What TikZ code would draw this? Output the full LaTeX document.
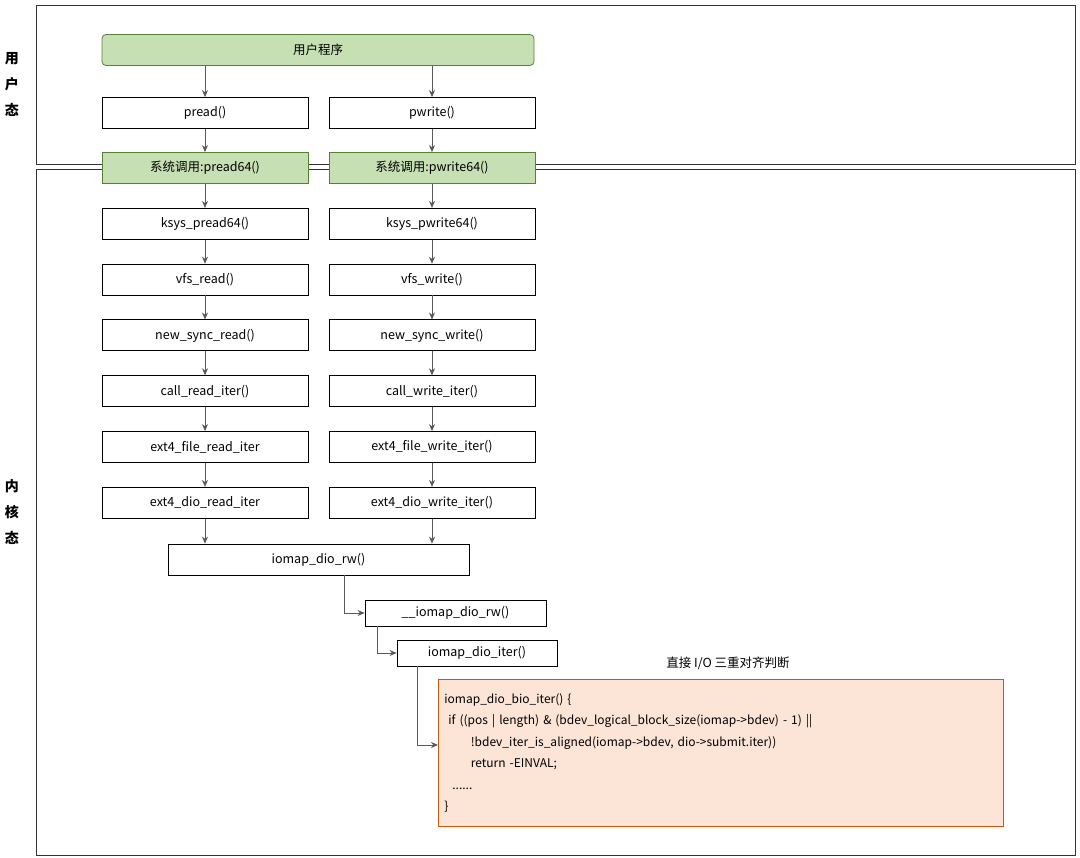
\documentclass[tikz,border=0pt]{standalone}
\usepackage{fontspec}
\setmainfont{Noto Sans CJK SC}
\usetikzlibrary{positioning,arrows.meta}
\definecolor{greenfill}{RGB}{198, 224, 180}
\definecolor{greenline}{RGB}{84, 130, 53}
\definecolor{orangefill}{RGB}{252, 228, 214}
\definecolor{orangeline}{RGB}{197, 90, 17}
\definecolor{arrowgray}{RGB}{89, 89, 89}
\begin{document}
\begin{tikzpicture}[x=1pt,y=-1pt,
    every node/.style={font=\fontsize{12.5pt}{14pt}\selectfont},
    func/.style={rectangle,draw,thick,minimum width=206pt,minimum height=31pt,inner sep=0pt},
    sys/.style={func,fill=greenfill,draw=greenline},
    region/.style={draw,thick,black!80},
    call/.style={-{Stealth[length=7pt,width=6pt]},thick,arrowgray}]
  \useasboundingbox (0,0) rectangle (1080,858);
  % regions
  \draw[region] (36,5) rectangle (1075,164);
  \draw[region] (36,169) rectangle (1075,855);
  \node[font=\bfseries\fontsize{14pt}{26pt}\selectfont,align=center] (user) at (12,84) {用\\户\\态};
  \node[font=\bfseries\fontsize{14pt}{26pt}\selectfont,align=center] (kernel) at (12,512) {内\\核\\态};
  % user space
  \node [sys,rounded corners=4pt,minimum width=432pt] (prog) at (318,50) {用户程序};
  \node [func] (r0) at (205,113) {pread()};
  \node [func] (w0) at (432,113) {pwrite()};
  \node [sys] (r1) at (205,168) {系统调用:pread64()};
  \node [sys] (w1) at (432,168) {系统调用:pwrite64()};
  % read path
  \node [func] (r2) [below=24pt of r1] {ksys\_pread64()};
  \node [func] (r3) [below=24pt of r2] {vfs\_read()};
  \node [func] (r4) [below=24pt of r3] {new\_sync\_read()};
  \node [func] (r5) [below=24pt of r4] {call\_read\_iter()};
  \node [func] (r6) [below=24pt of r5] {ext4\_file\_read\_iter};
  \node [func] (r7) [below=24pt of r6] {ext4\_dio\_read\_iter};
  % write path
  \node [func] (w2) [below=24pt of w1] {ksys\_pwrite64()};
  \node [func] (w3) [below=24pt of w2] {vfs\_write()};
  \node [func] (w4) [below=24pt of w3] {new\_sync\_write()};
  \node [func] (w5) [below=24pt of w4] {call\_write\_iter()};
  \node [func] (w6) [below=24pt of w5] {ext4\_file\_write\_iter()};
  \node [func] (w7) [below=24pt of w6] {ext4\_dio\_write\_iter()};
  % iomap
  \node [func,minimum width=301pt] (rw) at (318.5,559.5) {iomap\_dio\_rw()};
  \node [func,minimum width=181pt,minimum height=26pt] (rw2) at (455.5,613) {\_\_iomap\_dio\_rw()};
  \node [func,minimum width=160pt,minimum height=26pt] (iter) at (477,653) {iomap\_dio\_iter()};
  \node [draw=orangeline,thick,fill=orangefill,minimum width=565pt,minimum height=147pt,
         inner sep=6pt,align=left,anchor=north west,text width=553pt,
         font=\fontsize{12pt}{21.5pt}\selectfont] (code) at (438,679) {%
    iomap\_dio\_bio\_iter() \{\\
    \ if ((pos | length) \& (bdev\_logical\_block\_size(iomap->bdev) - 1) ||\\
    \hspace*{2.2em}!bdev\_iter\_is\_aligned(iomap->bdev, dio->submit.iter))\\
    \hspace*{2.2em}return -EINVAL;\\
    \ \ ......\\
    \}};
  \node (note) at (728,663) {直接 I/O 三重对齐判断};
  % calls
  \draw[call] (prog.south -| r0) -- (r0);
  \draw[call] (prog.south -| w0) -- (w0);
  \foreach \a/\b in {0/1,1/2,2/3,3/4,4/5,5/6,6/7} {
    \draw[call] (r\a) -- (r\b);
    \draw[call] (w\a) -- (w\b);
  }
  \draw[call] (r7) -- (rw.north -| r7);
  \draw[call] (w7) -- (rw.north -| w7);
  \draw[call] (rw.south -| 344,0) |- (rw2.west);
  \draw[call] (rw2.south -| 377,0) |- (iter.west);
  \draw[call] (iter.south -| 417,0) |- (code.west |- 0,745);
\end{tikzpicture}
\end{document}
